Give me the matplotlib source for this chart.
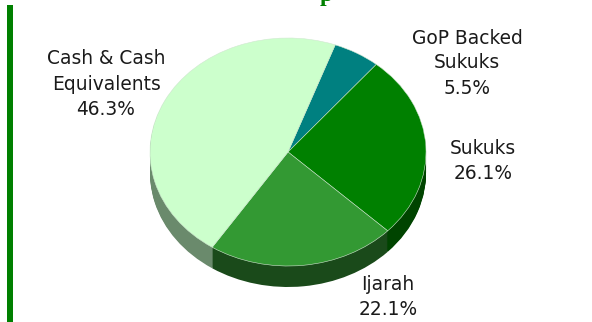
import matplotlib
matplotlib.use("Agg")
import matplotlib.pyplot as plt

labels = ["GoP Backed\nSukuks\n5.5%", "Sukuks\n26.1%", "Ijarah\n22.1%", "Cash & Cash\nEquivalents\n46.3%"]
shares = [5.5, 26.1, 22.1, 46.3]
top_colors = ["#008080", "#008000", "#339933", "#ccffcc"]
side_colors = ["#004040", "#004400", "#1a4a1a", "#6a8a6c"]
label_pos = [(467, 63), (483, 161), (388, 297), (106, 84)]

W, H = 592, 322
cx, cy, rx, ry = 288, 152, 138, 114
depth = 21

fig = plt.figure(figsize=(W / 100, H / 100), dpi=100, facecolor="white")
ax = fig.add_axes([0, 0, 1, 1])

# side of the pie: the dark disc stacked downwards, then the top face
for off in range(depth, 0, -1):
    ax.pie(shares, colors=side_colors, startangle=70, counterclock=False,
           center=(0, -off / ry), radius=1)
ax.pie(shares, colors=top_colors, startangle=70, counterclock=False,
       wedgeprops={"linewidth": 0.4, "edgecolor": "#cfe8cf"})

ax.set_aspect("auto")
ax.set_xlim(-cx / rx, (W - cx) / rx)
ax.set_ylim((cy - H) / ry, cy / ry)
ax.axis("off")

# left rule
fig.patches.append(plt.Rectangle((7 / W, 0), 6 / W, 1 - 5 / H, transform=fig.transFigure,
                                 color="#008000", linewidth=0))

for text, (x, y) in zip(labels, label_pos):
    fig.text(x / W, 1 - y / H, text, ha="center", va="center", fontsize=13.4,
             color="#1a1a1a", family="DejaVu Sans", linespacing=1.4)

# tail of the heading running off the top edge
fig.text(326 / W, 1 - 1.5 / H, "p", ha="center", va="baseline", fontsize=17,
         color="#008000", family="Liberation Serif", fontweight="bold")

fig.savefig("out.png", dpi=100)
